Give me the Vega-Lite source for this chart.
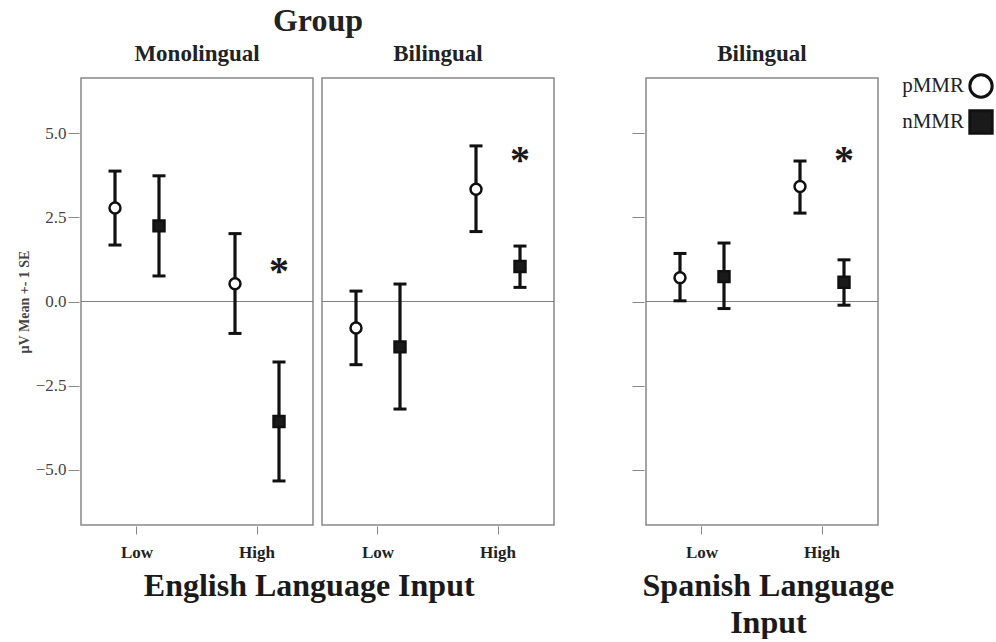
{
  "$schema": "https://vega.github.io/schema/vega-lite/v6.json",
  "background": "white",
  "padding": {"left": 17, "top": 5, "right": 0, "bottom": 0},
  "datasets": {
    "english": [
      {"group": "Monolingual", "level": "Low", "type": "pMMR", "mean": 2.78, "lo": 1.68, "hi": 3.88, "sig": null, "star_y": null},
      {"group": "Monolingual", "level": "Low", "type": "nMMR", "mean": 2.25, "lo": 0.76, "hi": 3.74, "sig": null, "star_y": null},
      {"group": "Monolingual", "level": "High", "type": "pMMR", "mean": 0.53, "lo": -0.95, "hi": 2.02, "sig": null, "star_y": null},
      {"group": "Monolingual", "level": "High", "type": "nMMR", "mean": -3.57, "lo": -5.34, "hi": -1.80, "sig": "*", "star_y": 1.07},
      {"group": "Bilingual", "level": "Low", "type": "pMMR", "mean": -0.79, "lo": -1.88, "hi": 0.31, "sig": null, "star_y": null},
      {"group": "Bilingual", "level": "Low", "type": "nMMR", "mean": -1.35, "lo": -3.20, "hi": 0.52, "sig": null, "star_y": null},
      {"group": "Bilingual", "level": "High", "type": "pMMR", "mean": 3.34, "lo": 2.08, "hi": 4.63, "sig": null, "star_y": null},
      {"group": "Bilingual", "level": "High", "type": "nMMR", "mean": 1.04, "lo": 0.42, "hi": 1.65, "sig": "*", "star_y": 4.35}
    ],
    "spanish": [
      {"group": "Bilingual", "level": "Low", "type": "pMMR", "mean": 0.71, "lo": 0.02, "hi": 1.43, "sig": null, "star_y": null},
      {"group": "Bilingual", "level": "Low", "type": "nMMR", "mean": 0.74, "lo": -0.21, "hi": 1.74, "sig": null, "star_y": null},
      {"group": "Bilingual", "level": "High", "type": "pMMR", "mean": 3.42, "lo": 2.63, "hi": 4.18, "sig": null, "star_y": null},
      {"group": "Bilingual", "level": "High", "type": "nMMR", "mean": 0.57, "lo": -0.11, "hi": 1.24, "sig": "*", "star_y": 4.37}
    ]
  },
  "hconcat": [
    {
      "data": {"name": "english"},
      "title": {"text": "English Language Input", "orient": "bottom", "anchor": "middle", "dx": 23, "font": "Liberation Serif", "fontSize": 32, "fontWeight": "bold", "color": "#1a1a1a", "offset": 11},
      "facet": {"column": {"field": "group", "type": "nominal", "sort": ["Monolingual", "Bilingual"], "header": {"title": "Group"}}},
      "spacing": {"column": 5},
      "spec": {
        "width": 232,
        "height": 447,
        "layer": [
          {"mark": {"type": "rule", "color": "#808080", "strokeWidth": 1}, "encoding": {"y": {"datum": 0, "type": "quantitative"}}},
          {
            "mark": {"type": "rule", "color": "#111", "strokeWidth": 3.2},
            "encoding": {
              "x": {"field": "level", "type": "nominal", "sort": ["Low", "High"], "scale": {"paddingInner": 0.2667, "paddingOuter": 0.1}, "axis": {"title": null, "domain": false, "tickSize": 8, "tickColor": "#888", "labelFont": "Liberation Serif", "labelFontSize": 17, "labelFontWeight": "bold", "labelColor": "#222", "labelPadding": 10, "labelAngle": 0}},
              "xOffset": {"field": "type", "type": "nominal", "sort": ["pMMR", "nMMR"], "scale": {"paddingInner": 0, "paddingOuter": 0}},
              "y": {"field": "lo", "type": "quantitative", "scale": {"domain": [-6.65, 6.65], "nice": false, "zero": false}, "axis": {"values": [-5, -2.5, 0, 2.5, 5], "format": ".1f", "title": "µV Mean +- 1 SE", "domain": false, "grid": false, "tickSize": 11, "tickColor": "#888", "labelFont": "Liberation Serif", "labelFontSize": 17, "labelColor": "#444", "labelPadding": 2, "titleFont": "Liberation Serif", "titleFontSize": 14, "titleFontWeight": "bold", "titleColor": "#444", "titlePadding": 4}},
              "y2": {"field": "hi"}
            }
          },
          {
            "mark": {"type": "tick", "orient": "horizontal", "color": "#111", "size": 13, "thickness": 3, "opacity": 1},
            "encoding": {
              "x": {"field": "level", "type": "nominal", "sort": ["Low", "High"]},
              "xOffset": {"field": "type", "type": "nominal", "sort": ["pMMR", "nMMR"]},
              "y": {"field": "lo", "type": "quantitative"}
            }
          },
          {
            "mark": {"type": "tick", "orient": "horizontal", "color": "#111", "size": 13, "thickness": 3, "opacity": 1},
            "encoding": {
              "x": {"field": "level", "type": "nominal", "sort": ["Low", "High"]},
              "xOffset": {"field": "type", "type": "nominal", "sort": ["pMMR", "nMMR"]},
              "y": {"field": "hi", "type": "quantitative"}
            }
          },
          {
            "mark": {"type": "point", "filled": true, "strokeWidth": 2.5, "opacity": 1, "size": 120},
            "encoding": {
              "x": {"field": "level", "type": "nominal", "sort": ["Low", "High"]},
              "xOffset": {"field": "type", "type": "nominal", "sort": ["pMMR", "nMMR"]},
              "y": {"field": "mean", "type": "quantitative"},
              "shape": {"field": "type", "type": "nominal", "scale": {"domain": ["pMMR", "nMMR"], "range": ["circle", "square"]}, "legend": {"orient": "none", "legendX": 887, "legendY": -5, "title": null}},
              "fill": {"field": "type", "type": "nominal", "scale": {"domain": ["pMMR", "nMMR"], "range": ["white", "#1a1a1a"]}, "legend": {"orient": "none", "legendX": 887, "legendY": -5, "title": null}},
              "stroke": {"field": "type", "type": "nominal", "scale": {"domain": ["pMMR", "nMMR"], "range": ["#111", "#111"]}, "legend": {"orient": "none", "legendX": 887, "legendY": -5, "title": null}}
            }
          },
          {
            "transform": [{"filter": "datum.star_y != null"}],
            "mark": {"type": "text", "font": "Liberation Serif", "fontSize": 40, "fontWeight": "bold", "color": "#1a1a1a", "baseline": "middle", "dy": 6},
            "encoding": {
              "x": {"field": "level", "type": "nominal", "sort": ["Low", "High"]},
              "xOffset": {"field": "type", "type": "nominal", "sort": ["pMMR", "nMMR"]},
              "y": {"field": "star_y", "type": "quantitative"},
              "text": {"field": "sig"}
            }
          }
        ]
      }
    },
    {
      "data": {"name": "spanish"},
      "title": {"text": ["Spanish Language", "Input"], "orient": "bottom", "anchor": "middle", "dx": 13, "font": "Liberation Serif", "fontSize": 32, "fontWeight": "bold", "color": "#1a1a1a", "offset": 11, "lineHeight": 37},
      "facet": {"column": {"field": "group", "type": "nominal", "header": {"title": " "}}},
      "spec": {
        "width": 232,
        "height": 447,
        "layer": [
          {"mark": {"type": "rule", "color": "#808080", "strokeWidth": 1}, "encoding": {"y": {"datum": 0, "type": "quantitative"}}},
          {
            "mark": {"type": "rule", "color": "#111", "strokeWidth": 3.2},
            "encoding": {
              "x": {"field": "level", "type": "nominal", "sort": ["Low", "High"], "scale": {"paddingInner": 0.2667, "paddingOuter": 0.1}, "axis": {"title": null, "domain": false, "tickSize": 8, "tickColor": "#888", "labelFont": "Liberation Serif", "labelFontSize": 17, "labelFontWeight": "bold", "labelColor": "#222", "labelPadding": 10, "labelAngle": 0}},
              "xOffset": {"field": "type", "type": "nominal", "sort": ["pMMR", "nMMR"], "scale": {"paddingInner": 0, "paddingOuter": 0}},
              "y": {"field": "lo", "type": "quantitative", "scale": {"domain": [-6.65, 6.65], "nice": false, "zero": false}, "axis": {"values": [-5, -2.5, 0, 2.5, 5], "labels": false, "title": null, "domain": false, "grid": false, "tickSize": 12, "tickColor": "#888"}},
              "y2": {"field": "hi"}
            }
          },
          {
            "mark": {"type": "tick", "orient": "horizontal", "color": "#111", "size": 13, "thickness": 3, "opacity": 1},
            "encoding": {
              "x": {"field": "level", "type": "nominal", "sort": ["Low", "High"]},
              "xOffset": {"field": "type", "type": "nominal", "sort": ["pMMR", "nMMR"]},
              "y": {"field": "lo", "type": "quantitative"}
            }
          },
          {
            "mark": {"type": "tick", "orient": "horizontal", "color": "#111", "size": 13, "thickness": 3, "opacity": 1},
            "encoding": {
              "x": {"field": "level", "type": "nominal", "sort": ["Low", "High"]},
              "xOffset": {"field": "type", "type": "nominal", "sort": ["pMMR", "nMMR"]},
              "y": {"field": "hi", "type": "quantitative"}
            }
          },
          {
            "mark": {"type": "point", "filled": true, "strokeWidth": 2.5, "opacity": 1, "size": 120},
            "encoding": {
              "x": {"field": "level", "type": "nominal", "sort": ["Low", "High"]},
              "xOffset": {"field": "type", "type": "nominal", "sort": ["pMMR", "nMMR"]},
              "y": {"field": "mean", "type": "quantitative"},
              "shape": {"field": "type", "type": "nominal", "scale": {"domain": ["pMMR", "nMMR"], "range": ["circle", "square"]}, "legend": null},
              "fill": {"field": "type", "type": "nominal", "scale": {"domain": ["pMMR", "nMMR"], "range": ["white", "#1a1a1a"]}, "legend": null},
              "stroke": {"field": "type", "type": "nominal", "scale": {"domain": ["pMMR", "nMMR"], "range": ["#111", "#111"]}, "legend": null}
            }
          },
          {
            "transform": [{"filter": "datum.star_y != null"}],
            "mark": {"type": "text", "font": "Liberation Serif", "fontSize": 40, "fontWeight": "bold", "color": "#1a1a1a", "baseline": "middle", "dy": 6},
            "encoding": {
              "x": {"field": "level", "type": "nominal", "sort": ["Low", "High"]},
              "xOffset": {"field": "type", "type": "nominal", "sort": ["pMMR", "nMMR"]},
              "y": {"field": "star_y", "type": "quantitative"},
              "text": {"field": "sig"}
            }
          }
        ]
      }
    }
  ],
  "spacing": 75,
  "config": {
    "view": {"stroke": "#888", "strokeWidth": 1.5},
    "header": {"titleFont": "Liberation Serif", "titleFontSize": 32, "titleFontWeight": "bold", "titleColor": "#222", "labelFont": "Liberation Serif", "labelFontSize": 23, "labelFontWeight": "bold", "labelColor": "#222", "titlePadding": -5, "labelPadding": 11},
    "legend": {"symbolSize": 500, "symbolStrokeWidth": 3, "labelFont": "Liberation Serif", "labelFontSize": 21, "labelColor": "#222", "rowPadding": 0, "labelAlign": "right", "labelOffset": -30}
  }
}
